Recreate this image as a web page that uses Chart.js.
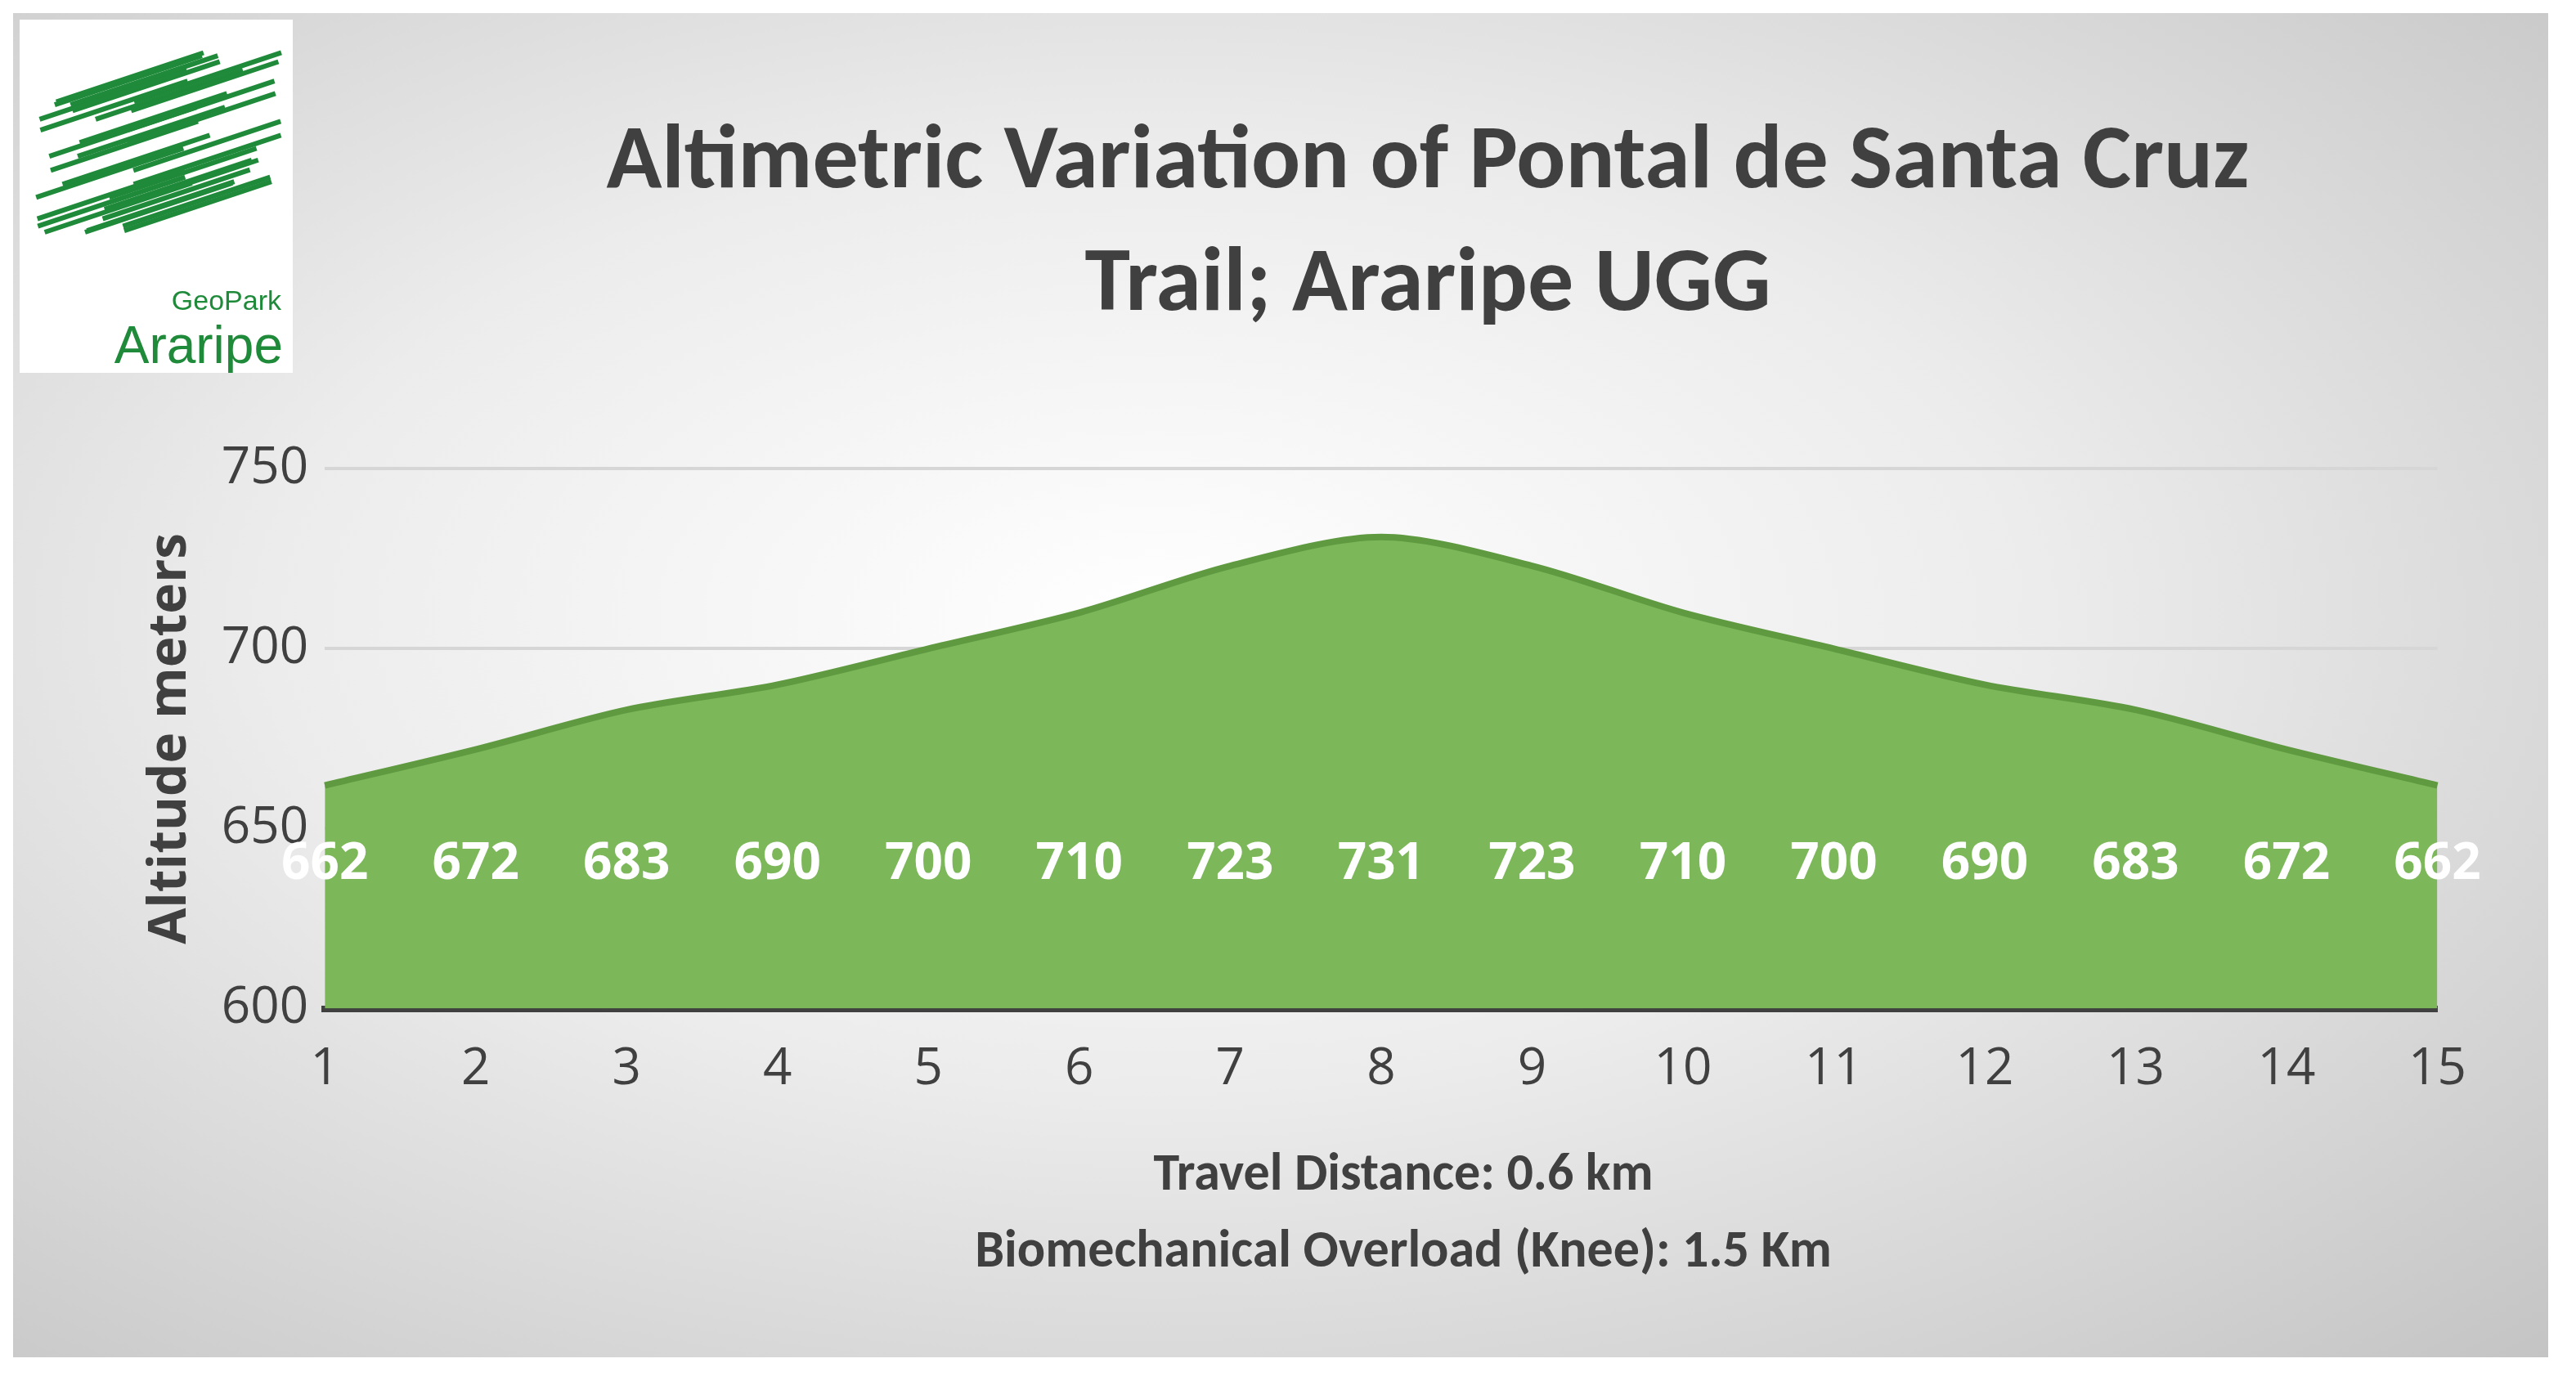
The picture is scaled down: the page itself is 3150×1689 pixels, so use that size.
<!DOCTYPE html>
<html>
<head>
<meta charset="utf-8">
<script src="https://cdn.jsdelivr.net/npm/chart.js@4"></script>
<style>
  html, body { margin: 0; padding: 0; background: #fff; }
  #box {
    position: absolute; left: 16px; top: 16px; width: 3100px; height: 1644px;
    background: radial-gradient(ellipse at 45% 45%, #ffffff 0%, #ececec 45%, #c4c4c4 100%);
    font-family: Calibri, Carlito, "Open Sans", sans-serif;
  }
  #logo {
    position: absolute; left: 8px; top: 8px; width: 334px; height: 432px; background: #fff;
  }
  #title {
    position: absolute; left: 480px; top: 100px; width: 2500px; text-align: center;
    font-size: 112px; font-weight: bold; color: #404040; line-height: 150px;
  }
  #foot {
    position: absolute; left: 700px; top: 1370px; width: 2000px; text-align: center;
    font-size: 64px; font-weight: bold; color: #404040; line-height: 94px;
  }
  #wrap { position: absolute; left: 130px; top: 500px; width: 2900px; height: 860px; }
</style>
</head>
<body>
<div id="box">
  <canvas id="logo" width="334" height="432"></canvas>
  <div id="title">Altimetric Variation of Pontal de Santa Cruz<br>Trail; Araripe UGG</div>
  <div id="wrap"><canvas id="myChart"></canvas></div>
  <div id="foot">Travel Distance: 0.6 km<br>Biomechanical Overload (Knee): 1.5 Km</div>
</div>
<script>
const labels = ['1','2','3','4','5','6','7','8','9','10','11','12','13','14','15'];
const altitude = [662, 672, 683, 690, 700, 710, 723, 731, 723, 710, 700, 690, 683, 672, 662];
const yTicks = [600, 650, 700, 750];

// logo
const lg = document.getElementById('logo').getContext('2d');
lg.strokeStyle = '#1f8a3a';
lg.lineWidth = 6;
for (let i = 0; i < 30; i++) {
  lg.beginPath();
  const cx = 170 + Math.sin(i * 1.7) * 60, cy = 150 + Math.cos(i * 1.3) * 80;
  lg.moveTo(cx - 90, cy + 30);
  lg.lineTo(cx + 90, cy - 30);
  lg.stroke();
}
lg.fillStyle = '#1f8a3a';
lg.font = '34px Liberation Sans';
lg.textAlign = 'right';
lg.fillText('GeoPark', 320, 355);
lg.font = '64px Liberation Sans';
lg.fillText('Araripe', 322, 420);

const labelPlugin = {
  id: 'vals',
  afterDatasetsDraw(chart) {
    const c = chart.ctx;
    const meta = chart.getDatasetMeta(0);
    c.save();
    c.fillStyle = '#fff';
    c.font = 'bold 62px "Open Sans", sans-serif';
    c.textAlign = 'center';
    c.textBaseline = 'middle';
    meta.data.forEach((p, i) => {
      c.fillText(altitude[i], p.x, chart.scales.y.getPixelForValue(640));
    });
    c.restore();
  }
};

new Chart(document.getElementById('myChart'), {
  type: 'line',
  data: {
    labels: labels,
    datasets: [{
      data: altitude,
      fill: 'start',
      backgroundColor: '#7cb75a',
      borderColor: '#5f9a40',
      borderWidth: 8,
      pointRadius: 0,
      tension: 0.3
    }]
  },
  options: {
    responsive: true,
    maintainAspectRatio: false,
    animation: false,
    layout: { padding: { right: 60, left: 20 } },
    plugins: { legend: { display: false }, tooltip: { enabled: false } },
    scales: {
      y: {
        min: 600, max: 750,
        afterBuildTicks: (s) => { s.ticks = yTicks.map(v => ({ value: v })); },
        title: { display: true, text: 'Altitude meters', color: '#404040',
                 font: { size: 64, weight: 'bold', family: 'Open Sans' } },
        ticks: { color: '#404040', font: { size: 62, family: 'Open Sans' }, padding: 20 },
        grid: { color: '#d6d6d6', lineWidth: 4, drawTicks: false },
        border: { display: false }
      },
      x: {
        ticks: { color: '#404040', font: { size: 62, family: 'Open Sans' }, padding: 30 },
        grid: { display: false },
        border: { color: '#404040', width: 8 }
      }
    }
  },
  plugins: [labelPlugin]
});
</script>
</body>
</html>
